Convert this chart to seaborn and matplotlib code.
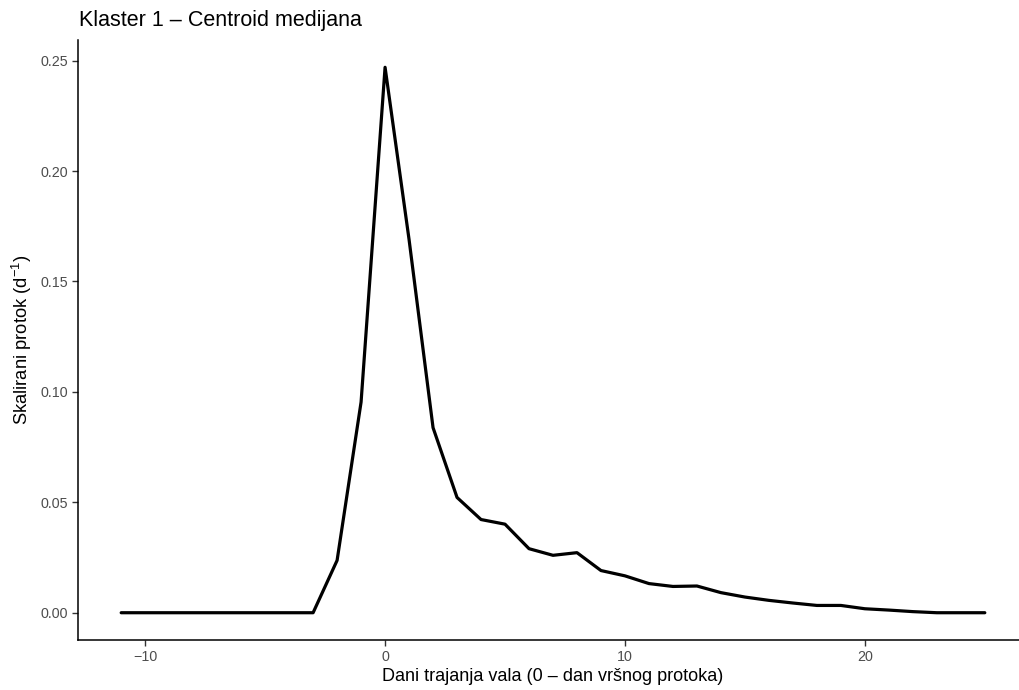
import numpy as np
import pandas as pd
import matplotlib
matplotlib.use("Agg")
import matplotlib.pyplot as plt
import seaborn as sns

# Data
days = list(range(-11, 26))
flow = [0.0, 0.0, 0.0, 0.0, 0.0, 0.0, 0.0, 0.0, 0.0,          # -11 .. -3
        0.0237, 0.0954, 0.247, 0.169, 0.0838, 0.0522, 0.0422,  # -2 .. 4
        0.0401, 0.0290, 0.0260, 0.0272, 0.0191, 0.0167, 0.0132, # 5 .. 11
        0.0119, 0.0121, 0.0091, 0.0071, 0.0056, 0.0044, 0.0033, # 12 .. 18
        0.0033, 0.0018, 0.0012, 0.0005, 0.0, 0.0, 0.0]          # 19 .. 25
x_ticks = [-10, 0, 10, 20]
y_ticks = [0.00, 0.05, 0.10, 0.15, 0.20, 0.25]
title = "Klaster 1 – Centroid medijana"
xlabel = "Dani trajanja vala (0 – dan vršnog protoka)"
ylabel = r"Skalirani protok (d$^{-1}$)"

df = pd.DataFrame({"day": days, "flow": flow})

sns.set_style("white")
plt.rcParams["font.family"] = ["Liberation Sans", "DejaVu Sans"]
plt.rcParams["mathtext.fontset"] = "custom"
plt.rcParams["mathtext.rm"] = "Liberation Sans"
plt.rcParams["mathtext.it"] = "Liberation Sans:italic"
plt.rcParams["mathtext.default"] = "regular"

fig = plt.figure(figsize=(10.19, 6.90), dpi=100)
ax = fig.add_axes([78 / 1019, 50 / 690, (1028 - 78) / 1019, 600 / 690])

sns.lineplot(data=df, x="day", y="flow", ax=ax, color="black", linewidth=2.3)

xmin, xmax = min(days), max(days)
xr = xmax - xmin
ax.set_xlim(xmin - 0.05 * xr, xmax + 0.05 * xr)
ymax = max(flow)
ax.set_ylim(-0.05 * ymax, ymax + 0.05 * ymax)

ax.set_xticks(x_ticks)
ax.set_xticklabels([str(t) if t >= 0 else "−" + str(-t) for t in x_ticks])
ax.set_yticks(y_ticks)
ax.set_yticklabels([f"{v:.2f}" for v in y_ticks])

for s in ["top", "right"]:
    ax.spines[s].set_visible(False)
for s in ["left", "bottom"]:
    ax.spines[s].set_color("black")
    ax.spines[s].set_linewidth(1.1)

ax.tick_params(axis="both", which="major", length=4, width=1.0, color="#333333",
               labelcolor="#4D4D4D", labelsize=10.3, pad=3, direction="out",
               bottom=True, left=True)

ax.set_xlabel(xlabel, fontsize=13, color="black", labelpad=3)
ax.set_ylabel(ylabel, fontsize=13.2, color="black", labelpad=5)
fig.text(79 / 1019, 1 - 26 / 690, title, fontsize=15.5, color="black",
         ha="left", va="baseline")

fig.savefig("out.png", dpi=100)
